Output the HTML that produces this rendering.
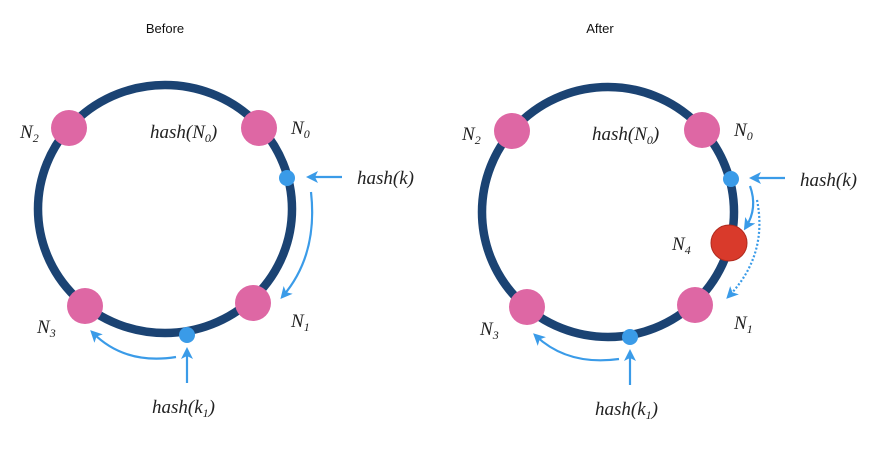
<!DOCTYPE html>
<html><head><meta charset="utf-8"><style>
html,body{margin:0;padding:0;background:#fff;}
svg{display:block}
.t{font-family:"Liberation Serif",serif;font-style:italic;font-size:19px;fill:#222}
.s{font-size:12px}
.h{font-family:"Liberation Sans",sans-serif;font-size:13px;fill:#111}
</style></head><body>
<svg width="873" height="450" viewBox="0 0 873 450" xmlns="http://www.w3.org/2000/svg">
<defs>
<marker id="ah" markerWidth="12" markerHeight="12" refX="8" refY="6" orient="auto" markerUnits="userSpaceOnUse">
<path d="M0,0 L12,6 L0,12 L3,6 Z" fill="#3a9be8"/>
</marker>
</defs>
<text class="h" x="165" y="33" text-anchor="middle">Before</text>
<text class="h" x="600" y="33" text-anchor="middle">After</text>

<!-- LEFT -->
<ellipse cx="165" cy="209" rx="127" ry="124" fill="none" stroke="#1b4373" stroke-width="8.5"/>
<circle cx="69" cy="128" r="18" fill="#de67a4"/>
<circle cx="259" cy="128" r="18" fill="#de67a4"/>
<circle cx="253" cy="303" r="18" fill="#de67a4"/>
<circle cx="85" cy="306" r="18" fill="#de67a4"/>
<circle cx="287" cy="178" r="8" fill="#3a9be8"/>
<circle cx="187" cy="335" r="8" fill="#3a9be8"/>
<g stroke="#3a9be8" stroke-width="2.2" fill="none">
<line x1="342" y1="177" x2="310" y2="177" marker-end="url(#ah)"/>
<path d="M311,192 Q318,255 283,296" marker-end="url(#ah)"/>
<line x1="187" y1="383" x2="187" y2="351" marker-end="url(#ah)"/>
<path d="M176,357 Q125,365 93,333" marker-end="url(#ah)"/>
</g>
<text class="t" x="20" y="138">N<tspan class="s" dy="4">2</tspan></text>
<text class="t" x="150" y="138">hash(N<tspan class="s" dy="4">0</tspan><tspan dy="-4">)</tspan></text>
<text class="t" x="291" y="134">N<tspan class="s" dy="4">0</tspan></text>
<text class="t" x="357" y="184">hash(k)</text>
<text class="t" x="291" y="327">N<tspan class="s" dy="4">1</tspan></text>
<text class="t" x="37" y="333">N<tspan class="s" dy="4">3</tspan></text>
<text class="t" x="152" y="413">hash(k<tspan class="s" dy="4">1</tspan><tspan dy="-4">)</tspan></text>

<!-- RIGHT -->
<ellipse cx="608" cy="212" rx="126" ry="125" fill="none" stroke="#1b4373" stroke-width="8.5"/>
<circle cx="512" cy="131" r="18" fill="#de67a4"/>
<circle cx="702" cy="130" r="18" fill="#de67a4"/>
<circle cx="695" cy="305" r="18" fill="#de67a4"/>
<circle cx="527" cy="307" r="18" fill="#de67a4"/>
<circle cx="729" cy="243" r="18" fill="#d93a2b" stroke="#b02a1e" stroke-width="1"/>
<circle cx="731" cy="179" r="8" fill="#3a9be8"/>
<circle cx="630" cy="337" r="8" fill="#3a9be8"/>
<g stroke="#3a9be8" stroke-width="2.2" fill="none">
<line x1="785" y1="178" x2="753" y2="178" marker-end="url(#ah)"/>
<path d="M750,186 Q758,208 746,227" marker-end="url(#ah)"/>
<path d="M757,200 Q768,255 729,296" stroke-dasharray="2,2" marker-end="url(#ah)"/>
<line x1="630" y1="385" x2="630" y2="353" marker-end="url(#ah)"/>
<path d="M619,359 Q568,366 536,336" marker-end="url(#ah)"/>
</g>
<text class="t" x="462" y="140">N<tspan class="s" dy="4">2</tspan></text>
<text class="t" x="592" y="140">hash(N<tspan class="s" dy="4">0</tspan><tspan dy="-4">)</tspan></text>
<text class="t" x="734" y="136">N<tspan class="s" dy="4">0</tspan></text>
<text class="t" x="800" y="186">hash(k)</text>
<text class="t" x="672" y="250">N<tspan class="s" dy="4">4</tspan></text>
<text class="t" x="734" y="329">N<tspan class="s" dy="4">1</tspan></text>
<text class="t" x="480" y="335">N<tspan class="s" dy="4">3</tspan></text>
<text class="t" x="595" y="415">hash(k<tspan class="s" dy="4">1</tspan><tspan dy="-4">)</tspan></text>
</svg>
</body></html>
